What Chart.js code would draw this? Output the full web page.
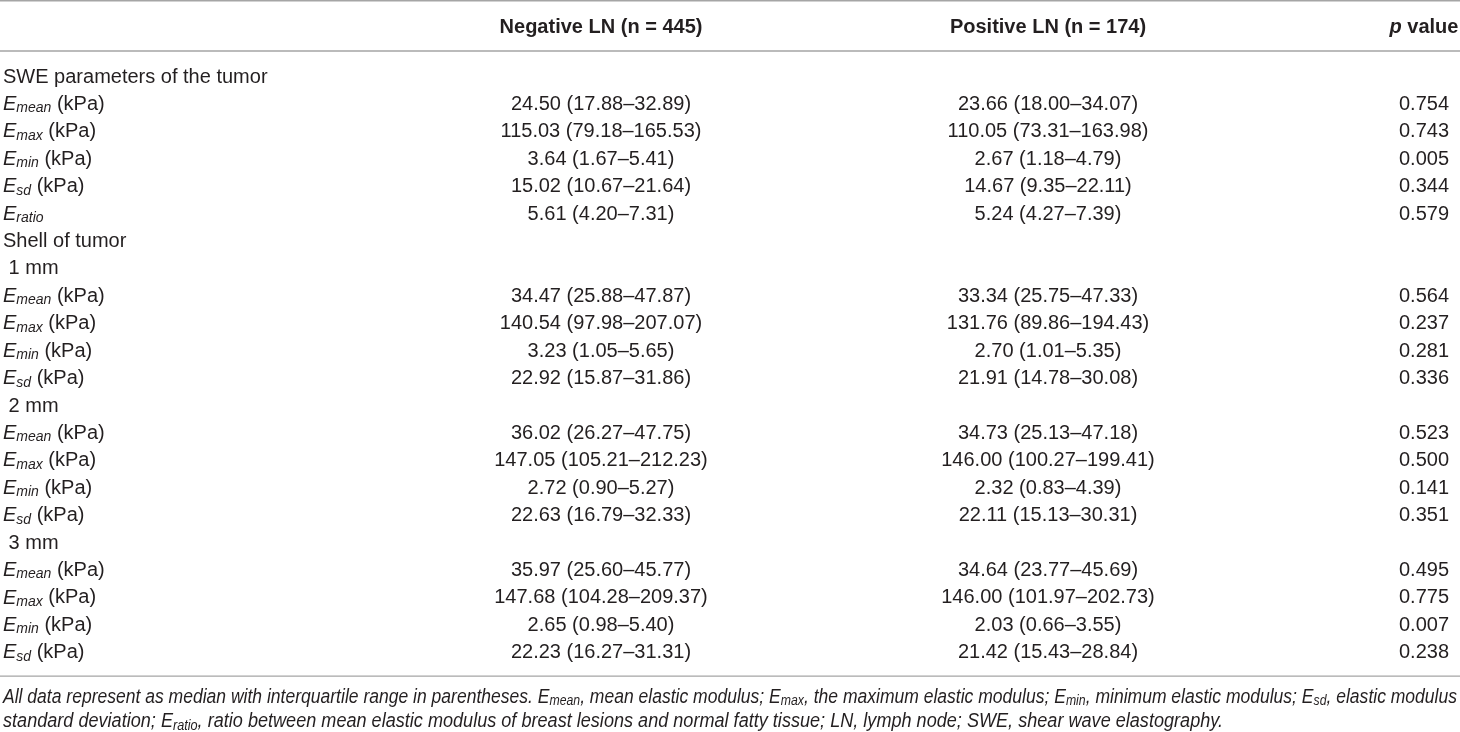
<!DOCTYPE html>
<html>
<head>
<meta charset="utf-8">
<script src="https://cdn.jsdelivr.net/npm/chart.js@4.4.1/dist/chart.umd.min.js"></script>
<style>
html,body{margin:0;padding:0;background:#fff;}
#caja{width:1460px;height:732px;position:relative;}
</style>
</head>
<body>
<div id="caja"><canvas id="myChart"></canvas></div>
<script>
// etiquetas de filas (*x* = cursiva, _{x} = subindice)
var rowLabels = [
  'SWE parameters of the tumor',
  '*E*_{mean} (kPa)', '*E*_{max} (kPa)', '*E*_{min} (kPa)', '*E*_{sd} (kPa)', '*E*_{ratio}',
  'Shell of tumor',
  ' 1 mm',
  '*E*_{mean} (kPa)', '*E*_{max} (kPa)', '*E*_{min} (kPa)', '*E*_{sd} (kPa)',
  ' 2 mm',
  '*E*_{mean} (kPa)', '*E*_{max} (kPa)', '*E*_{min} (kPa)', '*E*_{sd} (kPa)',
  ' 3 mm',
  '*E*_{mean} (kPa)', '*E*_{max} (kPa)', '*E*_{min} (kPa)', '*E*_{sd} (kPa)'
];

var negMedian = [null, 24.50, 115.03, 3.64, 15.02, 5.61, null, null, 34.47, 140.54, 3.23, 22.92, null, 36.02, 147.05, 2.72, 22.63, null, 35.97, 147.68, 2.65, 22.23];
var negQ1     = [null, 17.88, 79.18, 1.67, 10.67, 4.20, null, null, 25.88, 97.98, 1.05, 15.87, null, 26.27, 105.21, 0.90, 16.79, null, 25.60, 104.28, 0.98, 16.27];
var negQ3     = [null, 32.89, 165.53, 5.41, 21.64, 7.31, null, null, 47.87, 207.07, 5.65, 31.86, null, 47.75, 212.23, 5.27, 32.33, null, 45.77, 209.37, 5.40, 31.31];

var posMedian = [null, 23.66, 110.05, 2.67, 14.67, 5.24, null, null, 33.34, 131.76, 2.70, 21.91, null, 34.73, 146.00, 2.32, 22.11, null, 34.64, 146.00, 2.03, 21.42];
var posQ1     = [null, 18.00, 73.31, 1.18, 9.35, 4.27, null, null, 25.75, 89.86, 1.01, 14.78, null, 25.13, 100.27, 0.83, 15.13, null, 23.77, 101.97, 0.66, 15.43];
var posQ3     = [null, 34.07, 163.98, 4.79, 22.11, 7.39, null, null, 47.33, 194.43, 5.35, 30.08, null, 47.18, 199.41, 4.39, 30.31, null, 45.69, 202.73, 3.55, 28.84];

var pValues   = [null, 0.754, 0.743, 0.005, 0.344, 0.579, null, null, 0.564, 0.237, 0.281, 0.336, null, 0.523, 0.500, 0.141, 0.351, null, 0.495, 0.775, 0.007, 0.238];

var headers = ['', 'Negative LN (n = 445)', 'Positive LN (n = 174)', '*p* value'];

var footnote = [
  'All data represent as median with interquartile range in parentheses. E_{mean}, mean elastic modulus; E_{max}, the maximum elastic modulus; E_{min}, minimum elastic modulus; E_{sd}, elastic modulus',
  'standard deviation; E_{ratio}, ratio between mean elastic modulus of breast lesions and normal fatty tissue; LN, lymph node; SWE, shear wave elastography.'
];

// posiciones (en unidades de fila) de cabecera, lineas y nota
var filaCabecera = -1.82;
var filasLinea = [-2.78, -0.95, 21.85];
var filasNota = [22.61, 23.52];
var anchoNota = [1454, 1220];
var colX = [3, 601, 1048, 1424];

function rango(med, q1, q3){
  if(med === null) return '';
  return med.toFixed(2) + ' (' + q1.toFixed(2) + '\u2013' + q3.toFixed(2) + ')';
}

function fuente(size, bold, italic){
  return (italic ? 'italic ' : '') + (bold ? 'bold ' : '') + size + 'px "Liberation Sans", Arial, sans-serif';
}

// divide el texto en partes normales / cursiva / subindice
function partes(txt){
  var out = [];
  var cur = '';
  var it = false, sub = false;
  function meter(){ if(cur) out.push({t: cur, it: it, sub: sub}); cur = ''; }
  for (var i = 0; i < txt.length; i++) {
    var c = txt[i];
    if(c == '*'){ meter(); it = !it; continue; }
    if(c == '_' && txt[i+1] == '{'){ meter(); sub = true; i++; continue; }
    if(c == '}' && sub){ meter(); sub = false; continue; }
    cur += c;
  }
  meter();
  return out;
}

var TAM = 20, TAMSUB = 14, BAJA = 4;

function anchoRico(ctx, lista, negrita, cursiva){
  var w = 0;
  for (var i = 0; i < lista.length; i++) {
    var p = lista[i];
    ctx.font = fuente(p.sub ? TAMSUB : TAM, negrita, cursiva || p.it || p.sub);
    w += ctx.measureText(p.t).width;
  }
  return w;
}

function dibujarRico(ctx, txt, x, y, alinear, negrita, cursiva, escala){
  var lista = partes(txt);
  var w = anchoRico(ctx, lista, negrita, cursiva) * escala;
  var x0 = x;
  if(alinear == 'center') x0 = x - w / 2;
  if(alinear == 'right') x0 = x - w;
  ctx.save();
  ctx.translate(x0, y);
  ctx.scale(escala, 1);
  ctx.fillStyle = '#231f20';
  ctx.textBaseline = 'middle';
  ctx.textAlign = 'left';
  var cx = 0;
  for (var i = 0; i < lista.length; i++) {
    var p = lista[i];
    ctx.font = fuente(p.sub ? TAMSUB : TAM, negrita, cursiva || p.it || p.sub);
    ctx.fillText(p.t, cx, p.sub ? BAJA : 0);
    cx += ctx.measureText(p.t).width;
  }
  ctx.restore();
}

var tablaTexto = {
  id: 'tablaTexto',
  afterDatasetsDraw: function(chart){
    var ctx = chart.ctx;
    chart.data.datasets.forEach(function(ds, k){
      if(!ds.celdas) return;
      var meta = chart.getDatasetMeta(k);
      meta.data.forEach(function(pt, j){
        var raw = ds.data[j];
        if(!raw.txt) return;
        var escala = 1;
        if(raw.ancho){
          // la nota se comprime hasta su ancho
          escala = raw.ancho / anchoRico(ctx, partes(raw.txt), false, true);
        }
        dibujarRico(ctx, raw.txt, pt.x, pt.y, ds.alinear, raw.negrita, ds.cursiva, escala);
      });
    });
  }
};

// columnas de texto
var textos = [];
var i;
for (var c = 0; c < 4; c++) {
  var puntos = [{x: colX[c], y: filaCabecera, txt: headers[c], negrita: true}];
  for (i = 0; i < rowLabels.length; i++) {
    var t = '';
    if(c == 0) t = rowLabels[i];
    if(c == 1) t = rango(negMedian[i], negQ1[i], negQ3[i]);
    if(c == 2) t = rango(posMedian[i], posQ1[i], posQ3[i]);
    if(c == 3) t = pValues[i] === null ? '' : pValues[i].toFixed(3);
    puntos.push({x: colX[c], y: i, txt: t});
  }
  textos.push({
    data: puntos, celdas: true, alinear: c == 0 ? 'left' : 'center',
    pointRadius: 0, showLine: false
  });
}

// nota al pie
var notas = [];
for (i = 0; i < footnote.length; i++) {
  notas.push({x: 3, y: filasNota[i], txt: footnote[i], ancho: anchoNota[i]});
}
textos.push({
  data: notas, celdas: true, alinear: 'left', cursiva: true,
  pointRadius: 0, showLine: false
});

// lineas horizontales de la tabla
for (i = 0; i < filasLinea.length; i++) {
  textos.push({
    data: [{x: 0, y: filasLinea[i]}, {x: 1460, y: filasLinea[i]}],
    showLine: true, borderColor: '#a5a5a5', borderWidth: 1.4,
    pointRadius: 0, clip: false
  });
}

var graficar = document.getElementById('myChart');
var grafico = new Chart(graficar, {
  type: 'scatter',
  data: { datasets: textos },
  options: {
    responsive: true,
    maintainAspectRatio: false,
    animation: false,
    events: [],
    layout: { padding: 0 },
    plugins: { legend: { display: false }, tooltip: { enabled: false } },
    scales: {
      x: { type: 'linear', display: false, min: 0, max: 1460 },
      y: { type: 'linear', display: false, reverse: true, min: -2.808, max: 23.888 }
    }
  },
  plugins: [tablaTexto]
});
</script>
</body>
</html>
